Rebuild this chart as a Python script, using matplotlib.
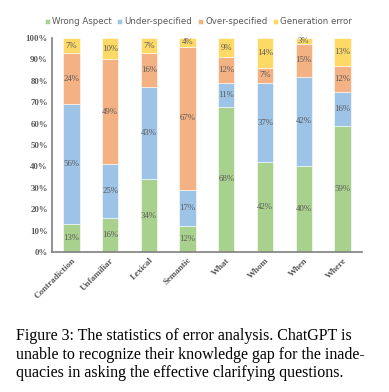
import matplotlib
matplotlib.use("Agg")
import matplotlib.pyplot as plt
import numpy as np

categories = ["Contradiction", "Unfamiliar", "Lexical", "Semantic", "What", "Whom", "When", "Where"]
series_names = ["Wrong Aspect", "Under-specified", "Over-specified", "Generation error"]
wrong_aspect = [13, 16, 34, 12, 68, 42, 40, 59]
under_specified = [56, 25, 43, 17, 11, 37, 42, 16]
over_specified = [24, 49, 16, 67, 12, 7, 15, 12]
generation_error = [7, 10, 7, 4, 9, 14, 3, 13]
colors = ["#A9D18E", "#9DC3E6", "#F4B183", "#FFD966"]
yticks = [0, 10, 20, 30, 40, 50, 60, 70, 80, 90, 100]

serif = ["Liberation Serif", "DejaVu Serif"]

fig = plt.figure(figsize=(3.89, 3.92), dpi=100)
ax = fig.add_axes([0.134, 0.357, 0.796, 0.546])

x = np.arange(len(categories))
bottom = np.zeros(len(categories))
for name, vals, col in zip(series_names, [wrong_aspect, under_specified, over_specified, generation_error], colors):
    vals = np.array(vals, dtype=float)
    ax.bar(x, vals, 0.42, bottom=bottom, color=col, label=name, edgecolor="white", linewidth=0.4)
    for xi, b, v in zip(x, bottom, vals):
        ax.text(xi, b + v / 2, f"{int(v)}%", ha="center", va="center", fontsize=6.3,
                family=serif, color="#595959")
    bottom += vals

ax.set_xlim(-0.5, len(categories) - 0.5)
ax.set_ylim(0, 100)
ax.set_yticks(yticks)
ax.set_yticklabels([f"{t}%" for t in yticks], family=serif, fontsize=6.3, color="#595959", fontweight="bold")
ax.set_xticks(x)
ax.set_xticklabels(categories, rotation=45, ha="right", rotation_mode="anchor",
                   family=serif, fontsize=6.5, color="#595959", fontweight="bold")
ax.tick_params(axis="both", length=0, pad=3)
for s in ["top", "right"]:
    ax.spines[s].set_visible(False)
for s in ["left", "bottom"]:
    ax.spines[s].set_color("#7F7F7F")
    ax.spines[s].set_linewidth(1.2)

leg = fig.legend(loc="center", bbox_to_anchor=(0.51, 0.944), ncol=4, frameon=False,
                 fontsize=6.2, handlelength=0.55, handleheight=0.55, handletextpad=0.25,
                 columnspacing=0.7)
for t in leg.get_texts():
    t.set_color("#595959")

caption = ("Figure 3: The statistics of error analysis. ChatGPT is\n"
           "unable to recognize their knowledge gap for the inade-\n"
           "quacies in asking the effective clarifying questions.")
fig.text(0.041, 0.095, caption, family=serif, fontsize=11.5, va="center", ha="left",
         linespacing=1.22, color="black")

fig.savefig("out.png", dpi=100)
